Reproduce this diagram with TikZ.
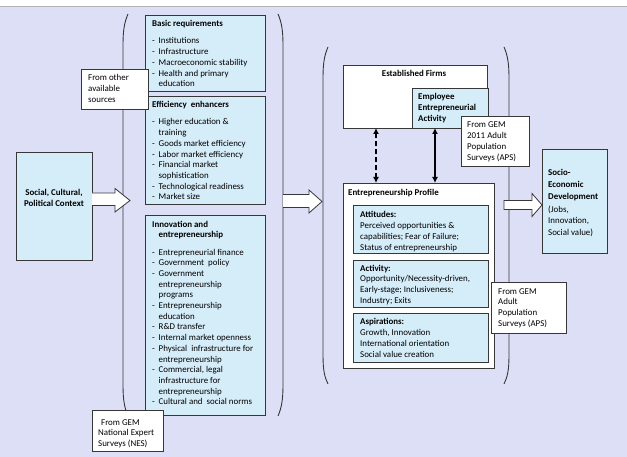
\documentclass[tikz,border=0pt]{standalone}
\usepackage{fontspec}
\setmainfont{Carlito}
\usetikzlibrary{arrows.meta}
\definecolor{lav}{RGB}{221,223,246}
\definecolor{lblue}{RGB}{213,236,249}
\definecolor{edge}{RGB}{55,55,55}
\newcommand\gitem{\makebox[6.5pt][l]{-}}
\newcommand\gind{\hspace*{6.5pt}}
\newcommand\gfont{\fontsize{8.9}{10.7}\selectfont}
\begin{document}
\begin{tikzpicture}[x=1pt,y=-1pt,
  box/.style={draw=edge,line width=0.8pt,anchor=north west,inner sep=0pt,outer sep=0pt},
  bluebox/.style={box,fill=lblue},
  whitebox/.style={box,fill=white},
  txt/.style={inner sep=0pt,anchor=base west,align=left,font=\gfont},
  btxt/.style={txt,font=\gfont\bfseries},
  brk/.style={draw=edge,line width=0.9pt},
  barrow/.style={draw=edge,fill=white,line width=0.8pt,line join=miter},
  dblarrow/.style={line width=2.2pt,black,{Latex[length=6pt,width=6pt]}-{Latex[length=6pt,width=6pt]}}
]
% background
\useasboundingbox (0,0) rectangle (627,457);
\fill[white] (0,0) rectangle (627,6);
\fill[lav] (0,6) rectangle (627,457);
\draw[gray!60,line width=0.6pt] (0,6) -- (627,6);

% ---------- left part ----------
\node[bluebox,minimum width=76pt,minimum height=108pt] (social) at (16,152) {};
\node[btxt,anchor=base,align=center] (socialt) at (54,206.7) {Social, Cultural,\\Political Context};

% brackets left group
\draw[brk] (128,14) .. controls (124.5,22) and (123,30) .. (123,45) -- (123,385) .. controls (123,400) and (124.5,408) .. (128,416);
\draw[brk] (278,14) .. controls (281.5,22) and (283,30) .. (283,45) -- (283,385) .. controls (283,400) and (281.5,408) .. (278,416);

\node[bluebox,minimum width=120pt,minimum height=76pt] (basic) at (145,15) {};
\node[txt] (basict) at (152,86.8) {\textbf{Basic requirements}\\[6.3pt]
\gitem Institutions\\
\gitem Infrastructure\\
\gitem Macroeconomic stability\\
\gitem Health and primary\\
\gind education};

\node[bluebox,minimum width=120pt,minimum height=108pt] (eff) at (145,96) {};
\node[txt] (efft) at (152,199.9) {\textbf{Efficiency\ \ enhancers}\\[6.3pt]
\gitem Higher education \&\\
\gind training\\
\gitem Goods market efficiency\\
\gitem Labor market efficiency\\
\gitem Financial market\\
\gind sophistication\\
\gitem Technological readiness\\
\gitem Market size};

\node[bluebox,minimum width=120pt,minimum height=200pt] (inno) at (145,215) {};
\node[txt] (innot) at (152,404.8) {\textbf{Innovation and}\\
\gind\textbf{entrepreneurship}\\[6.6pt]
\gitem Entrepreneurial finance\\
\gitem Government\ \ policy\\
\gitem Government\\
\gind entrepreneurship\\
\gind programs\\
\gitem Entrepreneurship\\
\gind education\\
\gitem R\&D transfer\\
\gitem Internal market openness\\
\gitem Physical\ \ infrastructure for\\
\gind entrepreneurship\\
\gitem Commercial, legal\\
\gind infrastructure for\\
\gind entrepreneurship\\
\gitem Cultural and\ \ social norms};

\node[whitebox,minimum width=67pt,minimum height=40pt] (other) at (81,69) {};
\node[txt] (othert) at (88,102.4) {From other\\available\\sources};

\node[whitebox,minimum width=71pt,minimum height=41pt] (nes) at (92,410) {};
\node[txt] (nest) at (98,446.4) {\hspace*{3pt}From GEM\\National Expert\\Surveys (NES)};

% block arrows
\draw[barrow] (92,193) -- (115,193) -- (115,188.5) -- (130,200.5) -- (115,212) -- (115,205.5) -- (92,205.5);
\draw[barrow] (283,194.5) -- (309,194.5) -- (309,190) -- (322,201.5) -- (309,213) -- (309,207.5) -- (283,207.5);

% ---------- right part ----------
\draw[brk] (328,47) .. controls (324.5,55) and (323,63) .. (323,78) -- (323,355) .. controls (323,370) and (324.5,377) .. (328,384);
\draw[brk] (504,47) .. controls (507.5,55) and (509,63) .. (509,78) -- (509,355) .. controls (509,370) and (507.5,377) .. (504,384);

\node[whitebox,minimum width=144pt,minimum height=63pt] (firms) at (343,65) {};
\node[btxt,anchor=base] (firmst) at (414,77) {Established Firms};
\node[bluebox,minimum width=76pt,minimum height=40pt] (eea) at (412,88) {};
\node[btxt] (eeat) at (418,121.4) {Employee\\Entrepreneurial\\Activity};

\node[whitebox,minimum width=151pt,minimum height=185pt] (profile) at (343,183) {};
\node[btxt] (profilet) at (348,196) {Entrepreneurship Profile};

\node[bluebox,minimum width=135pt,minimum height=48pt] (att) at (353,205) {};
\node[txt] (attt) at (360,250.1) {\textbf{Attitudes:}\\Perceived opportunities \&\\capabilities; Fear of Failure;\\Status of entrepreneurship};
\node[bluebox,minimum width=135pt,minimum height=47pt] (act) at (353,260) {};
\node[txt] (actt) at (360,303.1) {\textbf{Activity:}\\Opportunity/Necessity-driven,\\Early-stage; Inclusiveness;\\Industry; Exits};
\node[bluebox,minimum width=135pt,minimum height=49pt] (asp) at (353,313) {};
\node[txt] (aspt) at (360,357.1) {\textbf{Aspirations:}\\Growth, Innovation\\International orientation\\Social value creation};

\node[whitebox,minimum width=68pt,minimum height=50pt] (aps1) at (461,116) {};
\node[txt] (aps1t) at (467,160.1) {From GEM\\2011 Adult\\Population\\Surveys (APS)};

\node[whitebox,minimum width=75pt,minimum height=51pt] (aps2) at (491,282) {};
\node[txt] (aps2t) at (498,326.1) {From GEM\\Adult\\Population\\Surveys (APS)};

% double arrows
\coordinate (da) at (376,0);
\coordinate (db) at (435,0);
\draw[dblarrow,dash pattern=on 5pt off 3pt] (firms.south -| da) -- (profile.north -| da);
\draw[dblarrow] (firms.south -| db) -- (profile.north -| db);

% right block arrow and socio box
\node[bluebox,minimum width=65pt,minimum height=104pt] (socio) at (542,149) {};
\node[txt,font=\fontsize{8.9}{11.7}\selectfont] (sociot) at (548,235.5) {\textbf{Socio-}\\\textbf{Economic}\\\textbf{Development}\\[1pt](Jobs,\\Innovation,\\Social value)};
\draw[barrow] (504,200.5) -- (532,200.5) -- (532,193.5) -- (542,205) -- (532,216.5) -- (532,209.5) -- (504,209.5) -- cycle;
\end{tikzpicture}
\end{document}
